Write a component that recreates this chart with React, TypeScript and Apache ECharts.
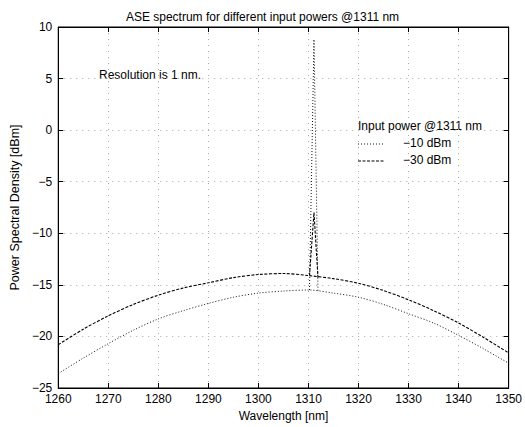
import React, { useEffect, useRef } from "react";
import * as echarts from "echarts";

// Broadband ASE (sampled every 5 nm)
const wavelengths = [1260, 1265, 1270, 1275, 1280, 1285, 1290, 1295, 1300, 1305, 1310, 1315, 1320, 1325, 1330, 1335, 1340, 1345, 1350];
const psdMinus30 = [-20.8, -19.3, -18.0, -16.9, -16.0, -15.3, -14.8, -14.3, -14.0, -13.9, -14.1, -14.4, -14.85, -15.55, -16.45, -17.5, -18.7, -20.1, -21.6];
const psdMinus10 = [-23.6, -22.1, -20.7, -19.4, -18.3, -17.5, -16.8, -16.2, -15.8, -15.6, -15.5, -15.8, -16.2, -16.9, -17.8, -18.7, -19.9, -21.2, -22.6];
// Amplified signal peak @1311 nm
const peakWavelengths = [1310.2, 1311.1, 1311.9];
const peakMinus30 = [-14.1, -8.0, -14.3];
const peakMinus10 = [-15.5, 8.8, -15.6];
const xTicks = { min: 1260, max: 1350, interval: 10 };
const yTicks = { min: -25, max: 10, interval: 5 };

const FONT = "Liberation Sans, Arial, sans-serif";

export default function App() {
  const ref = useRef<HTMLDivElement>(null);
  useEffect(() => {
    document.body.style.margin = "0";
    const chart = echarts.init(ref.current!, null, { renderer: "svg" });
    const pairs = (xs: number[], ys: number[]) => xs.map((w, i) => [w, ys[i]]);
    const fmt = (v: number) => (v < 0 ? "\u2212" + Math.abs(v) : String(v));
    const gridLine = { show: true, lineStyle: { color: "#a8a8a8", type: [1, 5] as any, width: 1 } };
    const tickStyle = { inside: true, length: 5, lineStyle: { color: "#000" } };
    const axisLine = { show: true, onZero: false, lineStyle: { color: "#000" } };
    const dotted = { color: "#111", width: 1, type: [1, 2] as any };
    const dashed = { color: "#000", width: 1.1, type: [3, 1.5] as any };
    chart.setOption({
      animation: false,
      backgroundColor: "#fff",
      textStyle: { fontFamily: FONT },
      title: {
        text: "ASE spectrum for different input powers @1311 nm",
        left: "center",
        top: 6,
        textStyle: { fontSize: 12, fontWeight: "normal", color: "#000", fontFamily: FONT },
      },
      grid: { left: 50, right: 12, top: 27, bottom: 37, show: true, borderColor: "#000", borderWidth: 1 },
      xAxis: [
        {
          type: "value",
          min: xTicks.min,
          max: xTicks.max,
          interval: xTicks.interval,
          name: "Wavelength [nm]",
          nameLocation: "middle",
          nameGap: 22,
          nameTextStyle: { fontSize: 12, color: "#000", fontFamily: FONT },
          axisLine,
          axisTick: tickStyle,
          axisLabel: { fontSize: 12, color: "#000", margin: 5, fontFamily: FONT, formatter: (v: number) => String(v) },
          splitLine: gridLine,
        },
        {
          type: "value",
          position: "top",
          min: xTicks.min,
          max: xTicks.max,
          interval: xTicks.interval,
          axisLine,
          axisTick: tickStyle,
          axisLabel: { show: false },
          splitLine: { show: false },
        },
      ],
      yAxis: [
        {
          type: "value",
          min: yTicks.min,
          max: yTicks.max,
          interval: yTicks.interval,
          name: "Power Spectral Density [dBm]",
          nameLocation: "middle",
          nameGap: 29,
          nameTextStyle: { fontSize: 12.5, color: "#000", fontFamily: FONT },
          axisLine,
          axisTick: tickStyle,
          axisLabel: { fontSize: 12, color: "#000", margin: 6, formatter: fmt, fontFamily: FONT },
          splitLine: gridLine,
        },
        {
          type: "value",
          position: "right",
          min: yTicks.min,
          max: yTicks.max,
          interval: yTicks.interval,
          axisLine,
          axisTick: tickStyle,
          axisLabel: { show: false },
          splitLine: { show: false },
        },
      ],
      series: [
        {
          name: "\u221210 dBm",
          type: "line",
          data: pairs(wavelengths, psdMinus10),
          showSymbol: false,
          smooth: 0.3,
          lineStyle: dotted,
        },
        {
          name: "\u221210 dBm peak",
          type: "line",
          data: pairs(peakWavelengths, peakMinus10),
          showSymbol: false,
          lineStyle: dotted,
        },
        {
          name: "\u221230 dBm",
          type: "line",
          data: pairs(wavelengths, psdMinus30),
          showSymbol: false,
          smooth: 0.3,
          lineStyle: dashed,
        },
        {
          name: "\u221230 dBm peak",
          type: "line",
          data: pairs(peakWavelengths, peakMinus30),
          showSymbol: false,
          lineStyle: dashed,
        },
      ],
      graphic: [
        { type: "text", left: 99, top: 69, style: { text: "Resolution is 1 nm.", fontSize: 12, fill: "#000", fontFamily: FONT } },
        { type: "text", left: 358, top: 120, style: { text: "Input power @1311 nm", fontSize: 12, fill: "#000", fontFamily: FONT } },
        { type: "line", shape: { x1: 358, y1: 144, x2: 384, y2: 144 }, style: { stroke: "#111", lineWidth: 1, lineDash: [1, 2] } },
        { type: "text", left: 403, top: 137, style: { text: "\u221210 dBm", fontSize: 12, fill: "#000", fontFamily: FONT } },
        { type: "line", shape: { x1: 358, y1: 161, x2: 384, y2: 161 }, style: { stroke: "#000", lineWidth: 1.1, lineDash: [3, 1.5] } },
        { type: "text", left: 403, top: 154, style: { text: "\u221230 dBm", fontSize: 12, fill: "#000", fontFamily: FONT } },
      ],
    });
    return () => chart.dispose();
  }, []);
  return <div ref={ref} style={{ width: 525, height: 427 }} />;
}
